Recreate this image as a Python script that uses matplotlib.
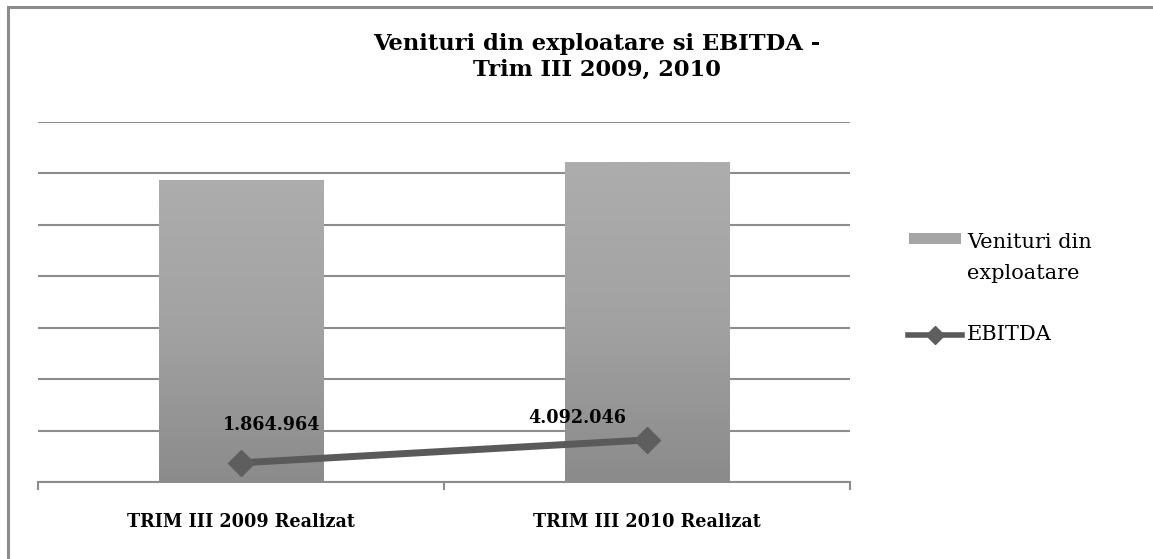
import numpy as np
import matplotlib.pyplot as plt
from matplotlib.patches import Rectangle
from matplotlib.lines import Line2D
from matplotlib.colors import LinearSegmentedColormap

categories = ["TRIM III 2009 Realizat", "TRIM III 2010 Realizat"]
venituri = [29400000, 31100000]
ebitda = [1864964, 4092046]
ebitda_labels = ["1.864.964", "4.092.046"]
legend_labels = ["Venituri din\nexploatare", "EBITDA"]

plt.rcParams['font.family'] = ['DejaVu Serif']

W, H = 1153, 559
fig = plt.figure(figsize=(W / 100, H / 100), dpi=100)

# chart frame (cut off at right and bottom in the reference)
fig.patches.append(Rectangle((8 / W, -0.1), 1.2, 1 - 7 / H + 0.1, transform=fig.transFigure,
                             fill=False, edgecolor="#8c8c8c", linewidth=2.2))

ax = fig.add_axes([38 / W, 1 - 482 / H, (850 - 38) / W, (482 - 122) / H])
x = np.arange(len(categories))

bar_cmap = LinearSegmentedColormap.from_list("bar", ["#8b8b8b", "#a2a2a2", "#adadad"])
bars = ax.bar(x, venituri, width=0.404, color="#9e9e9e", zorder=2)
grad = np.linspace(0, 1, 256).reshape(-1, 1)
for b in bars:
    im = ax.imshow(grad, cmap=bar_cmap, aspect="auto", origin="lower",
                   extent=[b.get_x(), b.get_x() + b.get_width(), 0, b.get_height()], zorder=2)
    im.set_clip_path(b)

ax.plot(x, ebitda, color="#5a5a5a", linewidth=5, marker="D", markersize=13,
        markerfacecolor="#5e5e5e", markeredgecolor="#5e5e5e", zorder=4)

offsets = [(22, 27), (-50, 16)]
for i in range(len(x)):
    ax.annotate(ebitda_labels[i], (x[i], ebitda[i]), textcoords="offset points",
                xytext=offsets[i], ha="center", va="center", fontsize=14,
                fontweight="bold", fontstretch="condensed", zorder=5)

ax.set_xlim(-0.5, 1.5)
ax.set_ylim(0, 35000000)
ax.set_yticks(np.arange(0, 35000001, 5000000))
ax.yaxis.grid(True, color="#8c8c8c", linewidth=1.5, zorder=0)
ax.set_axisbelow(True)
ax.tick_params(axis="y", left=False, labelleft=False)
for s in ["top", "right", "left"]:
    ax.spines[s].set_visible(False)
ax.spines["bottom"].set_color("#8c8c8c")
ax.spines["bottom"].set_linewidth(1.5)

ax.set_xticks(x)
ax.set_xticklabels(categories, fontsize=14, fontweight="bold", fontstretch="condensed")
ax.tick_params(axis="x", which="major", length=0, pad=22)
ax.set_xticks([-0.5, 0.5, 1.5], minor=True)
ax.tick_params(axis="x", which="minor", length=6, color="#8c8c8c", width=1.5)

fig.text(597 / W, 1 - 57 / H, "Venituri din exploatare si EBITDA -\nTrim III 2009, 2010",
         ha="center", va="center", fontsize=16.3, fontweight="bold", linespacing=1.25)

# legend, laid out like the reference (swatch aligned with the first text line)
def fx(px):
    return px / W

def fy(py):
    return 1 - py / H

fig.patches.append(Rectangle((fx(909), fy(244)), fx(52), 11 / H, transform=fig.transFigure,
                             facecolor="#a5a5a5", edgecolor="none"))
fig.lines.append(Line2D([fx(908), fx(962)], [fy(335), fy(335)], transform=fig.transFigure,
                        color="#5a5a5a", linewidth=4))
fig.lines.append(Line2D([fx(935)], [fy(335)], transform=fig.transFigure, marker="D",
                        markersize=9, color="#5e5e5e", linestyle="none"))
fig.text(fx(967), fy(258), legend_labels[0], ha="left", va="center", fontsize=15,
         linespacing=1.75)
fig.text(fx(967), fy(335), legend_labels[1], ha="left", va="center", fontsize=15)

fig.savefig("out.png", dpi=100)
